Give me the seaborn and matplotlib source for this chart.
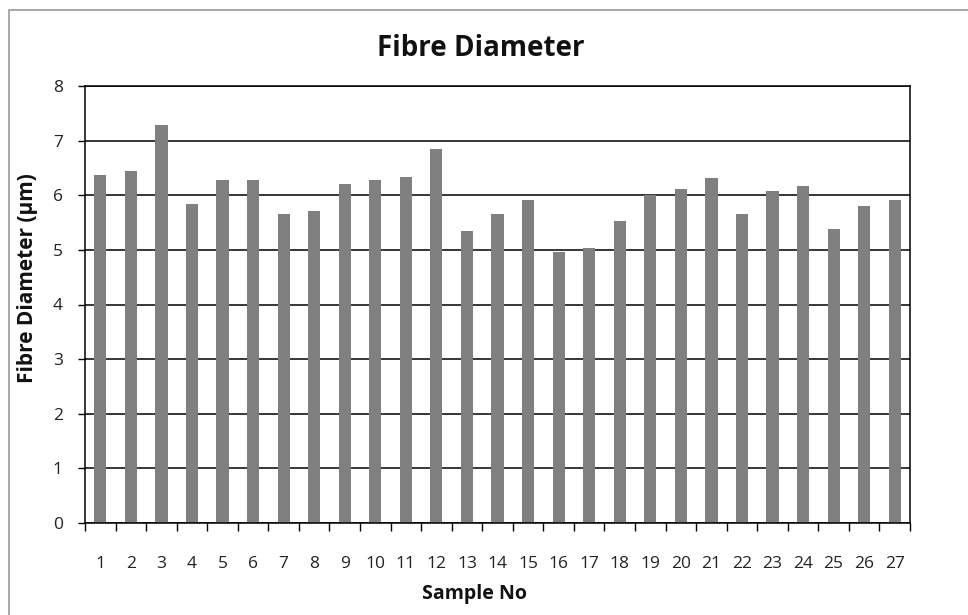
import matplotlib
matplotlib.use("Agg")
import matplotlib.pyplot as plt
import seaborn as sns
import pandas as pd
from matplotlib.patches import Rectangle
from matplotlib.ticker import FixedLocator

samples = [str(i) for i in range(1, 28)]
diameters = [6.37, 6.44, 7.28, 5.84, 6.28, 6.28, 5.65, 5.71, 6.20, 6.28,
             6.34, 6.85, 5.35, 5.65, 5.91, 4.97, 5.03, 5.52, 6.00, 6.12,
             6.31, 5.65, 6.08, 6.17, 5.39, 5.81, 5.91]
title = "Fibre Diameter"
xlabel = "Sample No"
ylabel = "Fibre Diameter (µm)"
yticks = [0, 1, 2, 3, 4, 5, 6, 7, 8]

sns.set_theme(style="white")
plt.rcParams['font.family'] = ['Open Sans', 'DejaVu Sans']

df = pd.DataFrame({"sample": samples, "diameter": diameters})

fig = plt.figure(figsize=(9.68, 6.15), dpi=100)
ax = fig.add_axes([85/968, 1 - 523/615, (910 - 85)/968, (523 - 86)/615])

sns.barplot(data=df, x="sample", y="diameter", color="#808080", width=0.4,
            saturation=1, ax=ax, edgecolor="none")

ax.set_xlim(-0.5, len(samples) - 0.5)
ax.set_ylim(0, 8)
ax.set_yticks(yticks)
ax.yaxis.grid(True, color="black", linewidth=1.1)
ax.set_axisbelow(True)

for s in ax.spines.values():
    s.set_visible(True)
    s.set_color("black")
    s.set_linewidth(1.1)

ax.xaxis.set_minor_locator(FixedLocator([i - 0.5 for i in range(len(samples) + 1)]))
ax.tick_params(axis='x', which='major', length=0, pad=24, labelsize=12.5, colors="#222222")
ax.tick_params(axis='x', which='minor', length=6, width=1, direction='out', color="black", bottom=True)
ax.tick_params(axis='y', which='major', length=5, width=1, direction='out', left=True,
               pad=11, labelsize=12.5, colors="black", labelcolor="#222222")

ax.set_xlabel(xlabel, fontsize=14, fontweight='bold', color="#111111", va='center')
ax.xaxis.set_label_coords((474 - 85) / 825, (523 - 594) / 437)
ax.set_ylabel(ylabel, fontsize=15, fontweight='bold', color="#111111", va='center')
ax.yaxis.set_label_coords((28 - 85) / 825, (523 - 278) / 437)
fig.text(481/968, 1 - 49/615, title, ha='center', va='center', fontsize=20,
         fontweight='bold', color="#111111")

fig.add_artist(Rectangle((9/968, -0.1), 1.2, 1 - 10/615 + 0.1, transform=fig.transFigure,
                         fill=False, edgecolor="#9a9a9a", linewidth=1.2))

fig.savefig("out.png", dpi=100)
